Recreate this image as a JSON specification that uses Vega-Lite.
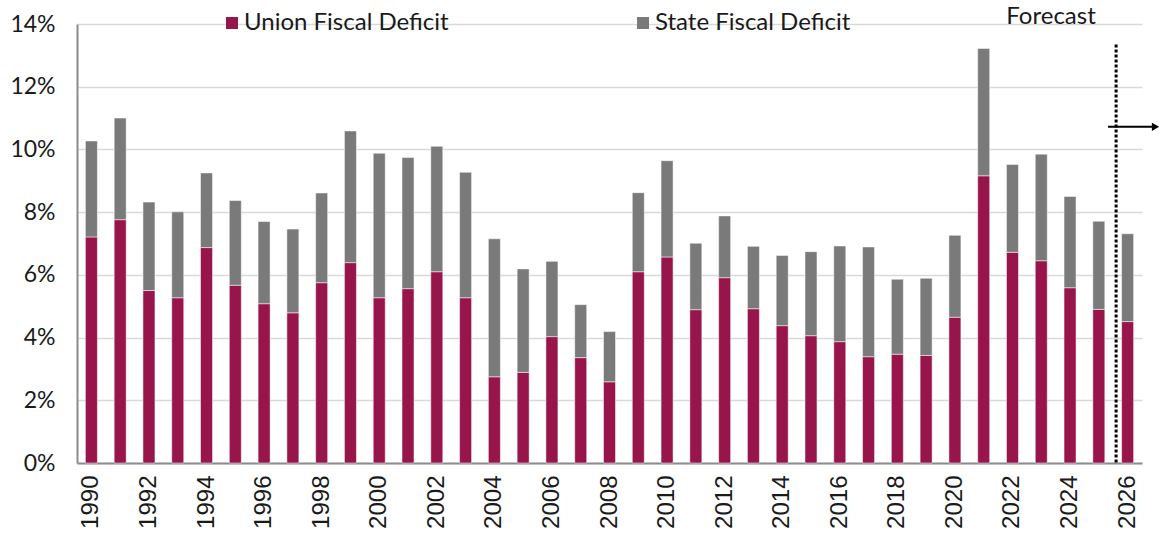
{
  "$schema": "https://vega.github.io/schema/vega-lite/v6.json",
  "autosize": {"type": "none"},
  "padding": {"left": 77, "top": 24, "right": 28, "bottom": 75},
  "width": 1065,
  "height": 439,
  "background": "#ffffff",
  "config": {
    "view": {"stroke": null},
    "legend": {"labelFont": "Lato", "labelFontSize": 24, "labelColor": "#1a1a1a", "labelLimit": 400}
  },
  "datasets": {
    "deficit": [
      {"year": 1990, "series": "Union Fiscal Deficit", "value": 7.21}, {"year": 1990, "series": "State Fiscal Deficit", "value": 3.06},
      {"year": 1991, "series": "Union Fiscal Deficit", "value": 7.76}, {"year": 1991, "series": "State Fiscal Deficit", "value": 3.24},
      {"year": 1992, "series": "Union Fiscal Deficit", "value": 5.50}, {"year": 1992, "series": "State Fiscal Deficit", "value": 2.82},
      {"year": 1993, "series": "Union Fiscal Deficit", "value": 5.27}, {"year": 1993, "series": "State Fiscal Deficit", "value": 2.74},
      {"year": 1994, "series": "Union Fiscal Deficit", "value": 6.87}, {"year": 1994, "series": "State Fiscal Deficit", "value": 2.38},
      {"year": 1995, "series": "Union Fiscal Deficit", "value": 5.67}, {"year": 1995, "series": "State Fiscal Deficit", "value": 2.70},
      {"year": 1996, "series": "Union Fiscal Deficit", "value": 5.08}, {"year": 1996, "series": "State Fiscal Deficit", "value": 2.62},
      {"year": 1997, "series": "Union Fiscal Deficit", "value": 4.79}, {"year": 1997, "series": "State Fiscal Deficit", "value": 2.67},
      {"year": 1998, "series": "Union Fiscal Deficit", "value": 5.75}, {"year": 1998, "series": "State Fiscal Deficit", "value": 2.86},
      {"year": 1999, "series": "Union Fiscal Deficit", "value": 6.39}, {"year": 1999, "series": "State Fiscal Deficit", "value": 4.20},
      {"year": 2000, "series": "Union Fiscal Deficit", "value": 5.27}, {"year": 2000, "series": "State Fiscal Deficit", "value": 4.61},
      {"year": 2001, "series": "Union Fiscal Deficit", "value": 5.56}, {"year": 2001, "series": "State Fiscal Deficit", "value": 4.18},
      {"year": 2002, "series": "Union Fiscal Deficit", "value": 6.10}, {"year": 2002, "series": "State Fiscal Deficit", "value": 4.00},
      {"year": 2003, "series": "Union Fiscal Deficit", "value": 5.27}, {"year": 2003, "series": "State Fiscal Deficit", "value": 4.00},
      {"year": 2004, "series": "Union Fiscal Deficit", "value": 2.75}, {"year": 2004, "series": "State Fiscal Deficit", "value": 4.40},
      {"year": 2005, "series": "Union Fiscal Deficit", "value": 2.89}, {"year": 2005, "series": "State Fiscal Deficit", "value": 3.30},
      {"year": 2006, "series": "Union Fiscal Deficit", "value": 4.03}, {"year": 2006, "series": "State Fiscal Deficit", "value": 2.40},
      {"year": 2007, "series": "Union Fiscal Deficit", "value": 3.36}, {"year": 2007, "series": "State Fiscal Deficit", "value": 1.69},
      {"year": 2008, "series": "Union Fiscal Deficit", "value": 2.59}, {"year": 2008, "series": "State Fiscal Deficit", "value": 1.60},
      {"year": 2009, "series": "Union Fiscal Deficit", "value": 6.10}, {"year": 2009, "series": "State Fiscal Deficit", "value": 2.52},
      {"year": 2010, "series": "Union Fiscal Deficit", "value": 6.57}, {"year": 2010, "series": "State Fiscal Deficit", "value": 3.07},
      {"year": 2011, "series": "Union Fiscal Deficit", "value": 4.89}, {"year": 2011, "series": "State Fiscal Deficit", "value": 2.12},
      {"year": 2012, "series": "Union Fiscal Deficit", "value": 5.91}, {"year": 2012, "series": "State Fiscal Deficit", "value": 1.97},
      {"year": 2013, "series": "Union Fiscal Deficit", "value": 4.92}, {"year": 2013, "series": "State Fiscal Deficit", "value": 1.99},
      {"year": 2014, "series": "Union Fiscal Deficit", "value": 4.38}, {"year": 2014, "series": "State Fiscal Deficit", "value": 2.24},
      {"year": 2015, "series": "Union Fiscal Deficit", "value": 4.06}, {"year": 2015, "series": "State Fiscal Deficit", "value": 2.68},
      {"year": 2016, "series": "Union Fiscal Deficit", "value": 3.87}, {"year": 2016, "series": "State Fiscal Deficit", "value": 3.05},
      {"year": 2017, "series": "Union Fiscal Deficit", "value": 3.39}, {"year": 2017, "series": "State Fiscal Deficit", "value": 3.50},
      {"year": 2018, "series": "Union Fiscal Deficit", "value": 3.47}, {"year": 2018, "series": "State Fiscal Deficit", "value": 2.39},
      {"year": 2019, "series": "Union Fiscal Deficit", "value": 3.43}, {"year": 2019, "series": "State Fiscal Deficit", "value": 2.46},
      {"year": 2020, "series": "Union Fiscal Deficit", "value": 4.65}, {"year": 2020, "series": "State Fiscal Deficit", "value": 2.61},
      {"year": 2021, "series": "Union Fiscal Deficit", "value": 9.16}, {"year": 2021, "series": "State Fiscal Deficit", "value": 4.06},
      {"year": 2022, "series": "Union Fiscal Deficit", "value": 6.72}, {"year": 2022, "series": "State Fiscal Deficit", "value": 2.80},
      {"year": 2023, "series": "Union Fiscal Deficit", "value": 6.45}, {"year": 2023, "series": "State Fiscal Deficit", "value": 3.40},
      {"year": 2024, "series": "Union Fiscal Deficit", "value": 5.59}, {"year": 2024, "series": "State Fiscal Deficit", "value": 2.91},
      {"year": 2025, "series": "Union Fiscal Deficit", "value": 4.90}, {"year": 2025, "series": "State Fiscal Deficit", "value": 2.81},
      {"year": 2026, "series": "Union Fiscal Deficit", "value": 4.51}, {"year": 2026, "series": "State Fiscal Deficit", "value": 2.80}
    ]
  },
  "layer": [
    {
      "data": {"name": "deficit"},
      "mark": {"type": "bar", "stroke": "#ffffff", "strokeWidth": 0.5},
      "encoding": {
        "x": {
          "field": "year", "type": "ordinal",
          "scale": {"paddingInner": 0.583, "paddingOuter": 0.2915},
          "axis": {
            "title": null,
            "values": [1990, 1992, 1994, 1996, 1998, 2000, 2002, 2004, 2006, 2008, 2010, 2012, 2014, 2016, 2018, 2020, 2022, 2024, 2026],
            "labelAngle": 270,
            "labelFont": "Liberation Sans",
            "labelFontSize": 24,
            "labelColor": "#1a1a1a",
            "labelPadding": 12,
            "ticks": false,
            "domainColor": "#8c8c8c",
            "domainWidth": 2,
            "grid": false
          }
        },
        "y": {
          "field": "value", "type": "quantitative", "stack": "zero",
          "scale": {"domain": [0, 14], "nice": false},
          "axis": {
            "title": null,
            "values": [0, 2, 4, 6, 8, 10, 12, 14],
            "labelExpr": "datum.value + '%'",
            "labelFont": "Lato",
            "labelFontSize": 23,
            "labelColor": "#1a1a1a",
            "labelPadding": 22,
            "ticks": false,
            "domainColor": "#8c8c8c",
            "domainWidth": 2,
            "grid": true,
            "gridColor": "#d9d9d9",
            "gridWidth": 1.5
          }
        },
        "color": {
          "field": "series", "type": "nominal",
          "scale": {"domain": ["Union Fiscal Deficit", "State Fiscal Deficit"], "range": ["#98154c", "#7a7a7a"]},
          "legend": {
            "title": null,
            "orient": "none",
            "direction": "horizontal",
            "legendX": 143,
            "legendY": -13,
            "symbolType": "square",
            "symbolSize": 144,
            "symbolStrokeWidth": 0,
            "labelOffset": 0,
            "columnPadding": 182
          }
        },
        "order": {"field": "series", "sort": "descending"}
      }
    },
    {
      "data": {"values": [{"yr": 2025.6, "top": 13.35, "bottom": 0}]},
      "mark": {"type": "rule", "color": "#000000", "strokeWidth": 3, "strokeDash": [3, 2]},
      "encoding": {
        "x": {"field": "yr", "type": "quantitative", "scale": {"domain": [1989.5, 2026.5], "nice": false, "zero": false}, "axis": null},
        "y": {"field": "top", "type": "quantitative", "scale": {"domain": [0, 14], "nice": false}},
        "y2": {"field": "bottom"}
      }
    },
    {
      "data": {"values": [{"from": 2025.32, "to": 2026.9, "level": 10.72}]},
      "mark": {"type": "rule", "color": "#000000", "strokeWidth": 2},
      "encoding": {
        "x": {"field": "from", "type": "quantitative", "scale": {"domain": [1989.5, 2026.5], "nice": false, "zero": false}, "axis": null},
        "x2": {"field": "to"},
        "y": {"field": "level", "type": "quantitative", "scale": {"domain": [0, 14], "nice": false}}
      }
    },
    {
      "data": {"values": [{"tip": 2026.97, "level": 10.72}]},
      "mark": {"type": "point", "shape": "triangle-right", "filled": true, "color": "#000000", "opacity": 1, "size": 70},
      "encoding": {
        "x": {"field": "tip", "type": "quantitative", "scale": {"domain": [1989.5, 2026.5], "nice": false, "zero": false}, "axis": null},
        "y": {"field": "level", "type": "quantitative", "scale": {"domain": [0, 14], "nice": false}}
      }
    },
    {
      "data": {"values": [{"label": "Forecast", "pos": 2023.34, "level": 14.22}]},
      "mark": {"type": "text", "font": "Lato", "fontSize": 24, "color": "#1a1a1a", "align": "center", "baseline": "middle"},
      "encoding": {
        "x": {"field": "pos", "type": "quantitative", "scale": {"domain": [1989.5, 2026.5], "nice": false, "zero": false}, "axis": null},
        "y": {"field": "level", "type": "quantitative", "scale": {"domain": [0, 14], "nice": false}},
        "text": {"field": "label"}
      }
    }
  ],
  "resolve": {"scale": {"x": "independent"}, "axis": {"x": "independent"}}
}
